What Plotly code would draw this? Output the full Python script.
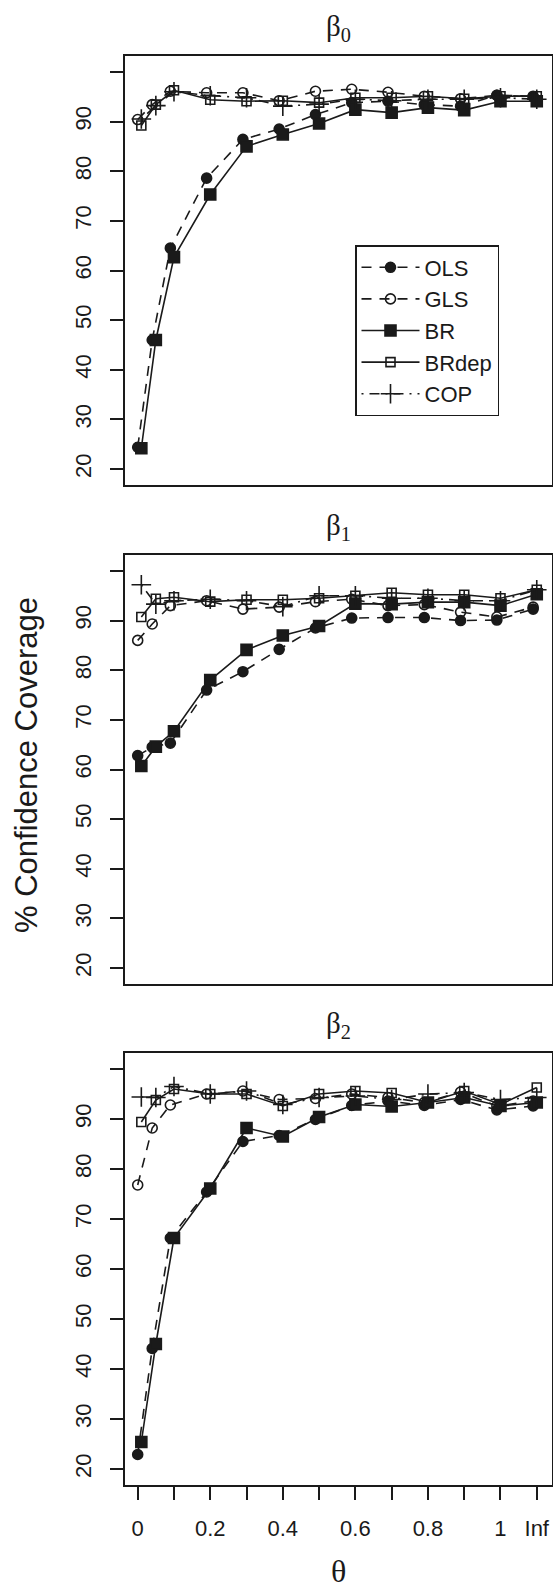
import plotly.graph_objects as go

# ---------------- data ----------------
theta_labels = ["0.01", "0.05", "0.1", "0.2", "0.3", "0.4", "0.5", "0.6", "0.7", "0.8", "0.9", "1", "Inf"]
theta_pos = [0.01, 0.05, 0.1, 0.2, 0.3, 0.4, 0.5, 0.6, 0.7, 0.8, 0.9, 1.0, 1.1]

x_tick_vals = [0.0, 0.2, 0.4, 0.6, 0.8, 1.0, 1.1]
x_tick_text = ["0", "0.2", "0.4", "0.6", "0.8", "1", "Inf"]
x_minor_vals = [0.1, 0.3, 0.5, 0.7, 0.9]
y_tick_vals = [20, 30, 40, 50, 60, 70, 80, 90]
y_tick_text = ["20", "30", "40", "50", "60", "70", "80", "90"]
y_minor_vals = [100]

methods = ["OLS", "GLS", "BR", "BRdep", "COP"]

b0_OLS = [24.4, 46.0, 64.5, 78.6, 86.4, 88.5, 91.4, 93.8, 94.1, 93.4, 93.1, 95.3, 95.0]
b0_GLS = [90.4, 93.4, 96.1, 95.8, 95.8, 94.2, 96.1, 96.5, 95.9, 95.1, 94.6, 95.3, 95.1]
b0_BR = [24.2, 46.0, 62.7, 75.3, 85.0, 87.4, 89.6, 92.4, 91.8, 92.8, 92.3, 94.1, 94.1]
b0_BRdep = [89.2, 93.4, 96.3, 94.4, 94.1, 94.2, 93.8, 94.8, 94.8, 95.1, 94.6, 95.1, 95.1]
b0_COP = [90.5, 93.2, 96.0, 95.2, 94.8, 93.1, 93.5, 94.5, 94.2, 94.5, 94.5, 94.8, 94.5]

b1_OLS = [62.8, 64.5, 65.3, 76.0, 79.7, 84.2, 88.5, 90.5, 90.6, 90.6, 90.0, 90.1, 92.3]
b1_GLS = [86.0, 89.3, 93.0, 94.0, 92.3, 92.7, 93.8, 94.3, 93.0, 93.2, 91.7, 90.7, 92.7]
b1_BR = [60.7, 64.6, 67.7, 78.0, 84.1, 87.0, 88.9, 93.4, 93.3, 93.7, 93.7, 93.0, 95.3]
b1_BRdep = [90.7, 94.4, 94.7, 93.8, 94.2, 94.2, 94.5, 95.0, 95.6, 95.2, 95.2, 94.5, 96.2]
b1_COP = [97.2, 93.3, 94.0, 94.3, 94.0, 92.8, 95.0, 95.0, 94.5, 94.5, 94.0, 94.0, 96.2]

b2_OLS = [22.9, 44.1, 66.2, 75.4, 85.5, 86.7, 89.9, 92.7, 93.6, 92.7, 93.9, 91.8, 92.6]
b2_GLS = [76.8, 88.2, 92.8, 95.0, 95.6, 93.9, 94.1, 95.0, 94.3, 93.3, 95.4, 92.6, 93.6]
b2_BR = [25.4, 45.0, 66.2, 76.1, 88.2, 86.5, 90.4, 92.9, 92.5, 93.3, 94.3, 92.6, 93.3]
b2_BRdep = [89.4, 93.8, 96.0, 95.0, 95.0, 92.6, 95.0, 95.6, 95.2, 93.3, 95.6, 92.9, 96.3]
b2_COP = [94.4, 94.3, 96.5, 95.0, 95.6, 92.9, 94.3, 94.6, 93.9, 95.0, 95.3, 93.9, 94.3]

panels = [
    ("β<sub>0</sub>", [b0_OLS, b0_GLS, b0_BR, b0_BRdep, b0_COP]),
    ("β<sub>1</sub>", [b1_OLS, b1_GLS, b1_BR, b1_BRdep, b1_COP]),
    ("β<sub>2</sub>", [b2_OLS, b2_GLS, b2_BR, b2_BRdep, b2_COP]),
]

# ---------------- styles ----------------
W, H = 553, 1591
INK = "#1a1a1a"
SANS = "Liberation Sans, Arial, sans-serif"
SERIF = "Liberation Serif, Times New Roman, serif"

styles = {
    "OLS": dict(symbol="circle", size=10, dash="10px,8px", dodge=-0.01),
    "GLS": dict(symbol="circle-open", size=10, dash="10px,8px", dodge=-0.01),
    "BR": dict(symbol="square", size=11, dash="solid", dodge=0.0),
    "BRdep": dict(symbol="square-open", size=9, dash="solid", dodge=0.0),
    "COP": dict(symbol="cross-thin-open", size=14, dash="2px,6px,10px,6px", dodge=0.0),
}

# panel boxes in pixel coordinates (top, bottom)
boxes = [(56, 485), (555, 984), (1053, 1485)]
x_left, x_right = 125, 552

fig = go.Figure()
layout = dict(
    width=W, height=H, autosize=False,
    margin=dict(l=0, r=0, t=0, b=0),
    paper_bgcolor="white", plot_bgcolor="white",
    font=dict(family=SANS, color=INK, size=22),
    annotations=[],
    legend=dict(
        x=355 / W, y=1 - 245 / H, xanchor="left", yanchor="top",
        bgcolor="white", bordercolor=INK, borderwidth=1.5,
        font=dict(family=SANS, size=22, color=INK),
        itemwidth=58, tracegroupgap=0,
    ),
)

for i, (title, series) in enumerate(panels):
    n = i + 1
    xa = "x" if n == 1 else f"x{n}"
    ya = "y" if n == 1 else f"y{n}"
    for name, vals in zip(methods, series):
        st = styles[name]
        fig.add_trace(go.Scatter(
            x=[p + st["dodge"] for p in theta_pos], y=vals,
            customdata=theta_labels,
            mode="lines+markers", name=name,
            legendgroup=name, showlegend=(n == 1),
            line=dict(color=INK, width=1.6, dash=st["dash"]),
            marker=dict(symbol=st["symbol"], size=st["size"], color=INK,
                        line=dict(color=INK, width=1.6)),
            xaxis=xa, yaxis=ya,
            hovertemplate="θ=%{customdata}: %{y}<extra>" + name + "</extra>",
        ))
    top, bot = boxes[i]
    last = (n == 3)
    xaxis = dict(
        domain=[x_left / W, x_right / W], range=[-0.035, 1.142],
        anchor=ya, showline=True, mirror=True, linecolor=INK, linewidth=1.5,
        showgrid=False, zeroline=False,
        tickvals=x_tick_vals, ticktext=x_tick_text,
        ticks="outside" if last else "", ticklen=13, tickwidth=1.5, tickcolor=INK,
        showticklabels=last, tickfont=dict(family=SANS, size=22, color=INK),
        ticklabelstandoff=10,
        minor=dict(tickvals=x_minor_vals, ticks="outside" if last else "",
                   ticklen=13, tickwidth=1.5, tickcolor=INK, showgrid=False),
    )
    yaxis = dict(
        domain=[1 - bot / H, 1 - top / H], range=[16.8, 103.2],
        anchor=xa, showline=True, mirror=True, linecolor=INK, linewidth=1.5,
        showgrid=False, zeroline=False,
        tickvals=y_tick_vals, ticktext=y_tick_text,
        ticks="outside", ticklen=13, tickwidth=1.5, tickcolor=INK,
        tickangle=-90, tickfont=dict(family=SANS, size=22, color=INK),
        ticklabelstandoff=10,
        minor=dict(tickvals=y_minor_vals, ticks="outside",
                   ticklen=13, tickwidth=1.5, tickcolor=INK, showgrid=False),
    )
    layout["xaxis" if n == 1 else f"xaxis{n}"] = xaxis
    layout["yaxis" if n == 1 else f"yaxis{n}"] = yaxis
    layout["annotations"].append(dict(
        text=title, x=(x_left + x_right) / 2 / W, y=1 - (top - 28) / H,
        xref="paper", yref="paper", xanchor="center", yanchor="middle",
        showarrow=False, font=dict(family=SERIF, size=29, color=INK),
    ))

layout["annotations"].append(dict(
    text="θ", x=(x_left + x_right) / 2 / W, y=1 - 1571 / H,
    xref="paper", yref="paper", xanchor="center", yanchor="middle",
    showarrow=False, font=dict(family=SERIF, size=32, color=INK),
))
layout["annotations"].append(dict(
    text="% Confidence Coverage", x=27 / W, y=1 - 765 / H,
    xref="paper", yref="paper", xanchor="center", yanchor="middle",
    textangle=-90, showarrow=False, font=dict(family=SANS, size=31, color=INK),
))

fig.update_layout(**layout)
fig.write_html(
    "out.html",
    config={"displayModeBar": False},
    post_script=(
        "document.body.style.margin='0';"
        "document.body.style.padding='0';"
        "document.documentElement.style.overflow='hidden';"
        "document.body.style.overflow='hidden';"
    ),
)
